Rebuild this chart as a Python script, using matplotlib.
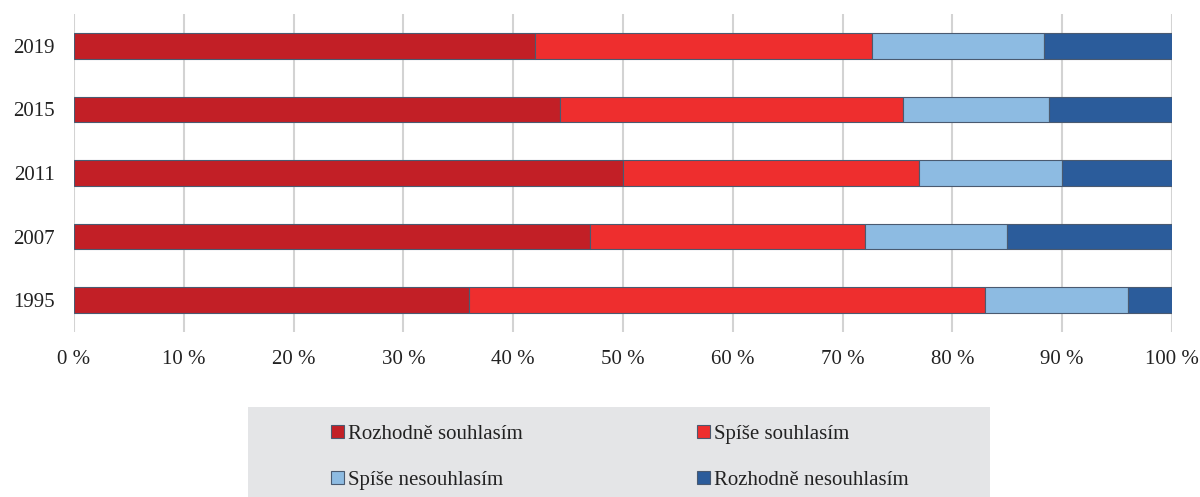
import matplotlib.pyplot as plt
from matplotlib.patches import Rectangle
import numpy as np

plt.rcParams['font.family'] = ['Liberation Serif', 'DejaVu Serif']

years = ['1995', '2007', '2011', '2015', '2019']
rozhodne_souhlasim = [36.0, 47.0, 50.0, 44.3, 42.0]
spise_souhlasim = [47.0, 25.0, 27.0, 31.2, 30.7]
spise_nesouhlasim = [13.0, 13.0, 13.0, 13.3, 15.6]
rozhodne_nesouhlasim = [4.0, 15.0, 10.0, 11.2, 11.7]

series = [
    ("Rozhodně souhlasím", rozhodne_souhlasim, "#c21f26"),
    ("Spíše souhlasím", spise_souhlasim, "#ee2e2e"),
    ("Spíše nesouhlasím", spise_nesouhlasim, "#8dbbe2"),
    ("Rozhodně nesouhlasím", rozhodne_nesouhlasim, "#2b5c9b"),
]

fig = plt.figure(figsize=(12, 4.97), dpi=100)
ax = fig.add_axes([74 / 1200, 1 - 332 / 497, 1098 / 1200, 318 / 497])

y = np.arange(len(years))
left = np.zeros(len(years))
handles = {}
for name, vals, color in series:
    vals = np.array(vals)
    b = ax.barh(y, vals, left=left, height=0.4, color=color,
                edgecolor="#4a5a70", linewidth=0.8, label=name, zorder=3)
    handles[name] = b
    left += vals

ax.set_xlim(0, 100)
ax.set_ylim(-0.5, 4.5)
ax.set_yticks(y)
ax.set_yticklabels(years)
ax.set_xticks(np.arange(0, 101, 10))
ax.set_xticklabels([f"{v} %" for v in range(0, 101, 10)])
ax.tick_params(axis='both', length=0, labelsize=15, colors="#222222")
ax.tick_params(axis='y', pad=14)
ax.tick_params(axis='x', pad=13)
ax.grid(axis='x', color="#d3d3d3", linewidth=1.5, zorder=0)
for s in ax.spines.values():
    s.set_visible(False)

# grey legend panel
fig.patches.append(Rectangle((248 / 1200, 0), 742 / 1200, 90 / 497,
                             transform=fig.transFigure, facecolor="#e4e5e7",
                             edgecolor="none", zorder=0))

order = ["Rozhodně souhlasím", "Spíše nesouhlasím", "Spíše souhlasím", "Rozhodně nesouhlasím"]
leg = fig.legend([handles[n] for n in order], order, ncol=2, frameon=False,
                 loc='upper left', bbox_to_anchor=(331 / 1200, 1 - 425 / 497),
                 fontsize=15, handlelength=0.6, handleheight=0.6,
                 handletextpad=0.2, columnspacing=8.4, labelspacing=1.3,
                 borderpad=0, borderaxespad=0)
for t in leg.get_texts():
    t.set_color("#222222")

fig.savefig("out.png", dpi=100)
plt.close(fig)
